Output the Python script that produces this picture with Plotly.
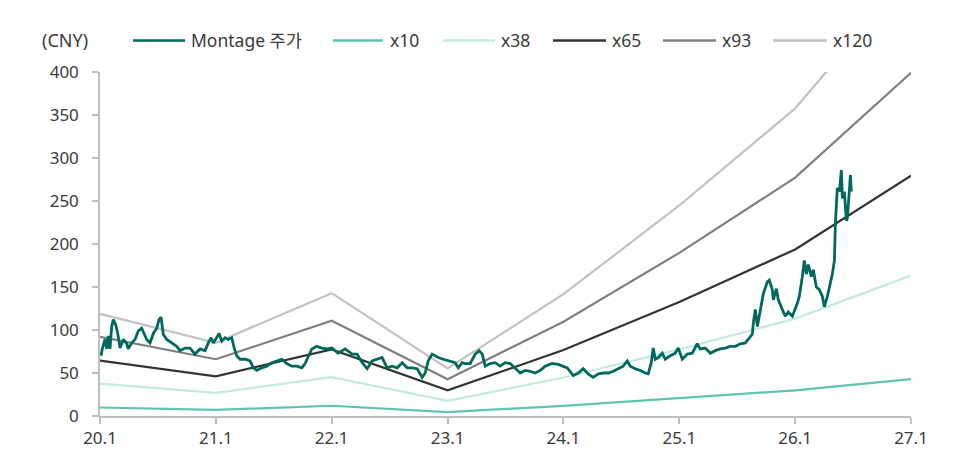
import plotly.graph_objects as go

# ---------------- DATA ----------------
band_years = [2020, 2021, 2022, 2023, 2024, 2025, 2026, 2027]
tick_labels = ["20.1", "21.1", "22.1", "23.1", "24.1", "25.1", "26.1", "27.1"]
y_ticks = [0, 50, 100, 150, 200, 250, 300, 350, 400]

band_x10 = [9.9, 7.1, 11.9, 4.6, 11.8, 20.4, 29.8, 43.0]
band_x38 = [37.6, 27.0, 45.2, 17.5, 44.8, 77.5, 113.2, 163.4]
band_x65 = [64.4, 46.2, 77.4, 29.9, 76.7, 132.6, 193.7, 279.5]
band_x93 = [92.1, 66.0, 110.7, 42.8, 109.7, 189.7, 277.1, 399.0]
band_x120 = [118.8, 85.2, 142.8, 55.2, 141.6, 244.8, 357.6, 516.0]

# price time in decimal years
price_t = [
    2020.009, 2020.020, 2020.043, 2020.058, 2020.072, 2020.086, 2020.101, 2020.115, 2020.136, 2020.153,
    2020.173, 2020.201, 2020.231, 2020.244, 2020.274, 2020.302, 2020.331, 2020.360, 2020.383, 2020.403,
    2020.432, 2020.460, 2020.490, 2020.509, 2020.527, 2020.546, 2020.576, 2020.619, 2020.662, 2020.691,
    2020.734, 2020.777, 2020.820, 2020.864, 2020.907, 2020.935, 2020.959, 2020.978, 2020.999, 2021.028,
    2021.051, 2021.080, 2021.108, 2021.137, 2021.160, 2021.180, 2021.209, 2021.252, 2021.295, 2021.324,
    2021.353, 2021.396, 2021.440, 2021.483, 2021.526, 2021.569, 2021.612, 2021.655, 2021.699, 2021.742,
    2021.770, 2021.799, 2021.828, 2021.871, 2021.915, 2021.958,
    2022.003, 2022.055, 2022.116, 2022.176, 2022.219, 2022.263, 2022.306, 2022.349, 2022.401, 2022.435,
    2022.478, 2022.522, 2022.565, 2022.608, 2022.651, 2022.694, 2022.737, 2022.781, 2022.807, 2022.832,
    2022.867, 2022.919, 2022.962, 2023.022, 2023.066, 2023.092, 2023.126, 2023.152, 2023.195, 2023.238,
    2023.273, 2023.299, 2023.325, 2023.368, 2023.411, 2023.454, 2023.497, 2023.541, 2023.584, 2023.627,
    2023.670, 2023.713, 2023.756, 2023.800, 2023.843, 2023.903, 2023.955,
    2024.033, 2024.085, 2024.128, 2024.171, 2024.214, 2024.257, 2024.301, 2024.344, 2024.387, 2024.430,
    2024.473, 2024.516, 2024.551, 2024.577, 2024.620, 2024.663, 2024.706, 2024.732, 2024.758, 2024.775,
    2024.793, 2024.819, 2024.853, 2024.879, 2024.922, 2024.965, 2024.991, 2025.026, 2025.069, 2025.112,
    2025.155, 2025.181, 2025.224, 2025.268, 2025.311, 2025.354, 2025.397, 2025.440, 2025.484, 2025.527,
    2025.570, 2025.596, 2025.630, 2025.639, 2025.656, 2025.674, 2025.699, 2025.725, 2025.760, 2025.777,
    2025.803, 2025.812, 2025.838, 2025.855, 2025.889, 2025.915, 2025.941, 2025.976,
    2026.019, 2026.036, 2026.062, 2026.079, 2026.097, 2026.114, 2026.140, 2026.157, 2026.183, 2026.209,
    2026.235, 2026.252, 2026.278, 2026.295, 2026.321, 2026.339, 2026.347, 2026.364, 2026.382, 2026.399,
    2026.408, 2026.425, 2026.442, 2026.451, 2026.468, 2026.477, 2026.485,
]
price_v = [
    70, 78, 89, 78, 93, 78, 104, 112, 106, 96,
    79, 89, 84, 78, 85, 89, 99, 102, 95, 89,
    85, 96, 102, 112, 115, 95, 89, 85, 81, 76,
    79, 79, 72, 78, 76, 85, 91, 85, 89, 96,
    87, 91, 89, 91, 78, 70, 66, 66, 64, 56,
    53, 56, 58, 62, 64, 66, 61, 58, 58, 56,
    61, 70, 78, 81, 79, 78,
    79, 73, 78, 72, 72, 62, 55, 64, 66, 68,
    56, 58, 56, 62, 56, 56, 55, 45, 50, 64,
    72, 68, 66, 64, 62, 56, 62, 61, 61, 72,
    76, 72, 58, 61, 62, 58, 62, 61, 56, 50,
    53, 52, 50, 53, 58, 61, 60,
    56, 47, 50, 55, 49, 45, 49, 50, 50, 52,
    55, 58, 64, 58, 55, 53, 50, 49, 62, 79,
    66, 68, 73, 66, 70, 73, 79, 66, 72, 73,
    84, 78, 79, 73, 76, 78, 79, 81, 81, 84,
    85, 89, 95, 108, 124, 104, 124, 142, 156, 158,
    147, 135, 148, 135, 124, 116, 121, 116,
    131, 139, 162, 181, 165, 176, 162, 170, 150, 147,
    139, 127, 139, 150, 165, 181, 223, 265, 261, 286,
    253, 261, 227, 230, 261, 280, 261,
]

series_names = ["Montage 주가", "x10", "x38", "x65", "x93", "x120"]
colors = ["#00695c", "#5ec4b0", "#c3ebe3", "#333333", "#808080", "#c2c2c2"]

# ---------------- FIGURE ----------------
FONT = "Noto Sans, Noto Sans CJK KR, sans-serif"
TXT = "#3a3a3a"
AXC = "#bfbfbf"

fig = go.Figure()
bands = [band_x10, band_x38, band_x65, band_x93, band_x120]
for name, vals, col in zip(series_names[1:], bands, colors[1:]):
    fig.add_trace(go.Scatter(x=band_years, y=vals, mode="lines", name=name,
                             line=dict(color=col, width=2.2), showlegend=False))
fig.add_trace(go.Scatter(x=price_t, y=price_v, mode="lines", name=series_names[0],
                         line=dict(color=colors[0], width=2.8), showlegend=False))

W, H = 974, 461
ML, MR, MT, MB = 100, 63, 72, 40
PW, PH = W - ML - MR, H - MT - MB


def px(x):
    return (x - ML) / PW


def py(y):
    return (H - MB - y) / PH


# manual legend (line length matches the reference)
leg_y = 40
leg_items = [(133, 185, 189), (333, 383, 388), (443, 495, 499),
             (553, 606, 610), (663, 716, 720), (773, 827, 831)]
shapes = []
annotations = []
for (x0, x1, xt), name, col in zip(leg_items, series_names, colors):
    shapes.append(dict(type="line", xref="paper", yref="paper",
                       x0=px(x0), x1=px(x1), y0=py(leg_y), y1=py(leg_y),
                       line=dict(color=col, width=2.6)))
    annotations.append(dict(xref="paper", yref="paper", x=px(xt), y=py(leg_y),
                            xanchor="left", yanchor="middle", showarrow=False,
                            text=name, font=dict(family=FONT, size=17.5, color=TXT)))
annotations.append(dict(xref="paper", yref="paper", x=px(40), y=py(leg_y),
                        xanchor="left", yanchor="middle", showarrow=False,
                        text="(CNY)", font=dict(family=FONT, size=18, color=TXT)))

fig.update_layout(
    width=W, height=H,
    margin=dict(l=ML, r=MR, t=MT, b=MB, pad=0),
    plot_bgcolor="white", paper_bgcolor="white",
    font=dict(family=FONT, size=17, color=TXT),
    showlegend=False,
    shapes=shapes,
    annotations=annotations,
    xaxis=dict(range=[2020, 2027], tickmode="array", tickvals=band_years, ticktext=tick_labels,
               showgrid=False, zeroline=False, showline=True, linecolor=AXC, linewidth=1.5,
               ticks="outside", ticklen=6, tickcolor=AXC, tickwidth=1.5,
               tickfont=dict(family=FONT, size=17, color=TXT)),
    yaxis=dict(range=[0, 400], tickmode="array", tickvals=y_ticks,
               showgrid=False, zeroline=False, showline=True, linecolor=AXC, linewidth=1.5,
               ticks="outside", ticklen=6, tickcolor=AXC, tickwidth=1.5,
               ticklabelstandoff=10,
               tickfont=dict(family=FONT, size=17, color=TXT)),
)

fig.write_html("out.html")
